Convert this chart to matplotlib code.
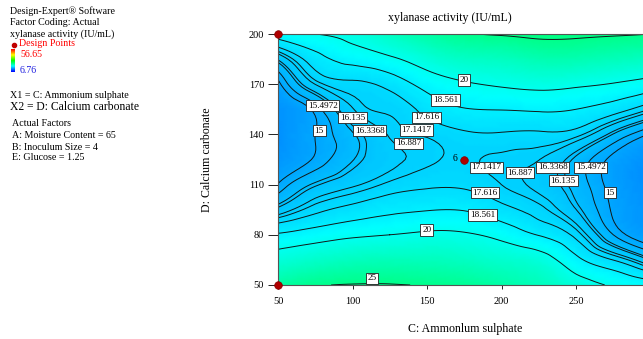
import numpy as np
import matplotlib
matplotlib.use('Agg')
import matplotlib.pyplot as plt
import matplotlib.tri as mtri
from matplotlib.colors import LinearSegmentedColormap, Normalize

plt.rcParams['font.family'] = 'Liberation Serif'

# C: ammonium sulphate (x), D: calcium carbonate (y)
x_vals = [50, 75, 100, 125, 150, 175, 200, 225, 250, 275, 300]
y_vals = [50, 65, 80, 95, 110, 125, 140, 155, 170, 185, 200]

# xylanase activity (IU/mL), one row per y value, bottom to top
activity = [
    [23.8, 24.8, 25.1, 25.1, 24.9, 24.4, 23.6, 22.5, 21.0, 19.8, 19.2],
    [21.0, 21.8, 22.4, 22.6, 22.5, 22.2, 21.6, 20.9, 18.9, 17.6, 16.3],
    [18.7, 19.2, 19.7, 20.0, 20.3, 20.2, 19.5, 18.5, 17.4, 15.5, 14.4],
    [16.5, 17.4, 17.9, 18.3, 18.5, 18.5, 17.9, 17.3, 16.35, 14.9, 14.0],
    [15.05, 16.25, 16.8, 17.25, 17.5, 17.5, 17.14, 16.75, 15.9, 14.7, 13.8],
    [14.2, 15.1, 16.1, 16.75, 17.05, 17.2, 17.05, 16.9, 16.0, 14.8, 13.9],
    [13.9, 15.0, 16.07, 16.93, 17.2, 17.5, 17.55, 17.5, 17.3, 16.1, 14.9],
    [14.1, 15.2, 16.85, 17.2, 17.9, 18.5, 18.6, 18.7, 18.56, 18.0, 17.1],
    [14.8, 16.9, 17.45, 17.9, 19.0, 19.8, 20.2, 20.5, 20.3, 19.9, 19.3],
    [16.4, 18.1, 19.0, 19.7, 21.0, 22.0, 22.3, 23.0, 23.0, 22.6, 22.2],
    [19.2, 20.0, 20.6, 22.2, 23.6, 24.8, 25.2, 25.5, 25.4, 25.2, 25.0],
]

levels = [15, 15.4972, 16.135, 16.3368, 16.887, 17.1417, 17.616, 18.561, 20, 25]

# where each contour label box sits
label_spots = {
    15: [(77.7, 142.2), (272.8, 105.1)],
    15.4972: [(80.0, 157.1), (259.9, 120.3)],
    16.135: [(99.9, 150.0), (241.5, 112.3)],
    16.3368: [(111.7, 142.2), (234.4, 120.3)],
    16.887: [(137.5, 134.7), (212.4, 117.1)],
    17.1417: [(143.0, 142.6), (190.0, 120.3)],
    17.616: [(149.8, 150.2), (189.0, 105.1)],
    18.561: [(162.5, 160.5), (187.4, 91.8)],
    20: [(174.8, 172.5), (149.8, 82.8)],
    25: [(112.9, 54.0)],
}

design_c = [50, 50, 175]
design_d = [200, 50, 125]
z_min, z_max = 6.76, 56.65

cmap = LinearSegmentedColormap.from_list(
    'de', ['#0000ff', '#00ffff', '#00ff00', '#ffff00', '#ff0000'])
norm = Normalize(z_min, z_max)

W, H = 643, 339
fig = plt.figure(figsize=(W / 100, H / 100), dpi=100)

# overlay in pixel units for the side text
ov = fig.add_axes([0, 0, 1, 1])
ov.set_xlim(0, W)
ov.set_ylim(H, 0)
ov.axis('off')

fs = 7.2
ov.text(10, 11, 'Design-Expert\u00ae Software', fontsize=fs, va='center')
ov.text(10, 22.5, 'Factor Coding: Actual', fontsize=fs, va='center')
ov.text(10, 34, 'xylanase activity (IU/mL)', fontsize=fs, va='center')
ov.plot([14], [44.5], 'o', ms=3, color='#c00000')
ov.text(19, 44, 'Design Points', fontsize=fs, va='center', color='red')
ov.text(20, 54.5, '%.2f' % z_max, fontsize=fs, va='center', color='red')
ov.text(20, 70.5, '%.2f' % z_min, fontsize=fs, va='center', color='#2020e0')
ov.text(10, 95, 'X1 = C: Ammonium sulphate', fontsize=fs, va='center')
ov.text(10, 106.5, 'X2 = D: Calcium carbonate', fontsize=8.4, va='center')
ov.text(12, 124, 'Actual Factors', fontsize=fs, va='center')
ov.text(12, 135.5, 'A: Moisture Content = 65', fontsize=fs, va='center')
ov.text(12, 147, 'B: Inoculum Size = 4', fontsize=fs, va='center')
ov.text(12, 158, 'E: Glucose = 1.25', fontsize=fs, va='center')
ov.text(450, 18, 'xylanase activity (IU/mL)', fontsize=8.6, ha='center', va='center')
ov.text(465, 329, 'C: Ammonlum sulphate', fontsize=8.6, ha='center', va='center')
ov.text(207, 160, 'D: Calcium carbonate', fontsize=8.6, ha='center', va='center',
        rotation=90)

# tiny colour bar
cb = fig.add_axes([11 / W, 1 - 72 / H, 4 / W, 23 / H])
cb.imshow(np.linspace(1, 0, 50)[:, None], aspect='auto', cmap=cmap)
cb.axis('off')

# main contour plot (runs past the right edge like the original crop)
left, right, top, bottom = 278, 650.5, 34, 285
ax = fig.add_axes([left / W, 1 - bottom / H, (right - left) / W, (bottom - top) / H])

X, Y = np.meshgrid(x_vals, y_vals)
Z = np.array(activity)
tri = mtri.Triangulation(X.ravel(), Y.ravel())
refiner = mtri.UniformTriRefiner(tri)
tri_f, z_f = refiner.refine_field(Z.ravel(), subdiv=3)

ax.tripcolor(tri_f, z_f, shading='gouraud', cmap=cmap, norm=norm)
cs = ax.tricontour(tri_f, z_f, levels=levels, colors='#101818', linewidths=0.7)

box = dict(facecolor='white', edgecolor='#202020', linewidth=0.6, pad=1.2)
for lev, spots in label_spots.items():
    for sx, sy in spots:
        ax.text(sx, sy, '%g' % lev, fontsize=6.6, ha='center', va='center',
                bbox=box, zorder=4)

ax.scatter(design_c, design_d, s=30, color='#b00000', edgecolors='#800000',
           linewidths=0.5, zorder=6, clip_on=False)
ax.annotate('6', (175, 125), xytext=(-5, 1), textcoords='offset points',
            ha='right', va='center', fontsize=7)

ax.set_xlim(50, 300)
ax.set_ylim(50, 200)
ax.set_xticks([50, 100, 150, 200, 250])
ax.set_yticks([50, 80, 110, 140, 170, 200])
ax.tick_params(axis='x', direction='out', length=3, width=0.6, labelsize=7.5, pad=6)
ax.tick_params(axis='y', direction='out', length=7, width=0.6, labelsize=7.5, pad=3)
for s in ax.spines.values():
    s.set_color('#555555')
    s.set_linewidth(0.8)

fig.savefig('out.png', dpi=100)
